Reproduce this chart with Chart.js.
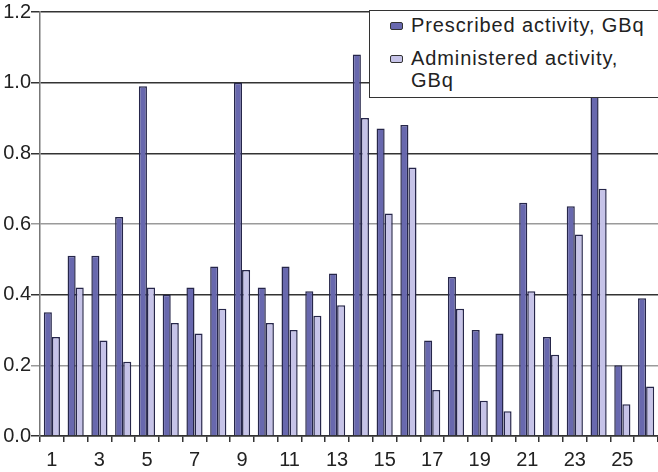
<!DOCTYPE html>
<html>
<head>
<meta charset="utf-8">
<script src="https://cdn.jsdelivr.net/npm/chart.js@4"></script>
<style>
  html, body { margin: 0; padding: 0; background: #fff; }
  #wrap { position: relative; width: 658px; height: 472px; }
  #legend {
    position: absolute; left: 369px; top: 10px; width: 292px; height: 88px;
    border: 1.5px solid #333; background: #fff; box-sizing: border-box;
    font-family: 'Liberation Sans', Arial, sans-serif; font-size: 20px; color: #222;
    letter-spacing: 0.9px; padding: 3px 0 0 20px; line-height: 22px;
  }
  .item { display: flex; align-items: flex-start; margin-bottom: 11px; }
  .sw { width: 11px; height: 6px; border: 1.5px solid #333; border-radius: 2px; margin: 8px 8px 0 0; flex-shrink: 0; }
</style>
</head>
<body>
<div id="wrap">
  <canvas id="chart" width="658" height="472"></canvas>
  <div id="legend"></div>
</div>
<script>
// categories = patient number
const labels = ['1','2','3','4','5','6','7','8','9','10','11','12','13',
                '14','15','16','17','18','19','20','21','22','23','24','25','26'];
const prescribed = [0.35, 0.51, 0.51, 0.62, 0.99, 0.40, 0.42, 0.48, 1.00, 0.42, 0.48, 0.41, 0.46,
                    1.08, 0.87, 0.88, 0.27, 0.45, 0.30, 0.29, 0.66, 0.28, 0.65, 1.00, 0.20, 0.39];
const administered = [0.28, 0.42, 0.27, 0.21, 0.42, 0.32, 0.29, 0.36, 0.47, 0.32, 0.30, 0.34, 0.37,
                      0.90, 0.63, 0.76, 0.13, 0.36, 0.10, 0.07, 0.41, 0.23, 0.57, 0.70, 0.09, 0.14];
const seriesNames = ['Prescribed activity, GBq', 'Administered activity,\nGBq'];

const DARK  = '#6868ae';
const LIGHT = '#c6c3e8';
const EDGE  = '#26264a';

// legend box (html overlay)
document.getElementById('legend').innerHTML = [DARK, LIGHT].map((c, i) => `
  <div class="item"><div class="sw" style="background:${c}"></div>
  <div>${seriesNames[i].replace('\n', '<br>')}</div></div>`).join('');

Chart.defaults.font.family = "'Liberation Sans', Arial, sans-serif";
Chart.defaults.color = '#222';

new Chart(document.getElementById('chart'), {
  type: 'bar',
  data: {
    labels: labels,
    datasets: [
      { label: seriesNames[0], data: prescribed, backgroundColor: DARK, borderColor: EDGE,
        borderWidth: 1.5, categoryPercentage: 0.68, barPercentage: 1.0 },
      { label: seriesNames[1], data: administered, backgroundColor: LIGHT, borderColor: EDGE,
        borderWidth: 1.5, categoryPercentage: 0.68, barPercentage: 1.0 }
    ]
  },
  options: {
    responsive: false,
    animation: false,
    layout: { padding: 0 },
    plugins: { legend: { display: false }, tooltip: { enabled: false } },
    scales: {
      x: {
        afterFit: s => { s.height = 36; },
        grid: { drawOnChartArea: false, tickLength: 6, color: '#333', lineWidth: 1.5 },
        border: { color: '#333', width: 1.5 },
        ticks: {
          autoSkip: false, maxRotation: 0, padding: 6,
          font: { size: 20 },
          callback: (v, i) => i % 2 === 0 ? labels[i] : ''
        }
      },
      y: {
        min: 0, max: 1.2,
        afterFit: s => { s.width = 40; },
        grid: {
          tickLength: 9, lineWidth: 1.5,
          color: ctx => {
            const v = Math.round(ctx.tick.value * 10);
            return (v === 2 || v === 6) ? '#9a9a9a' : '#333';
          }
        },
        border: { color: '#777', width: 1.5 },
        ticks: {
          stepSize: 0.2, padding: 0,
          font: { size: 20 },
          callback: v => v.toFixed(1)
        }
      }
    }
  }
});
</script>
</body>
</html>
